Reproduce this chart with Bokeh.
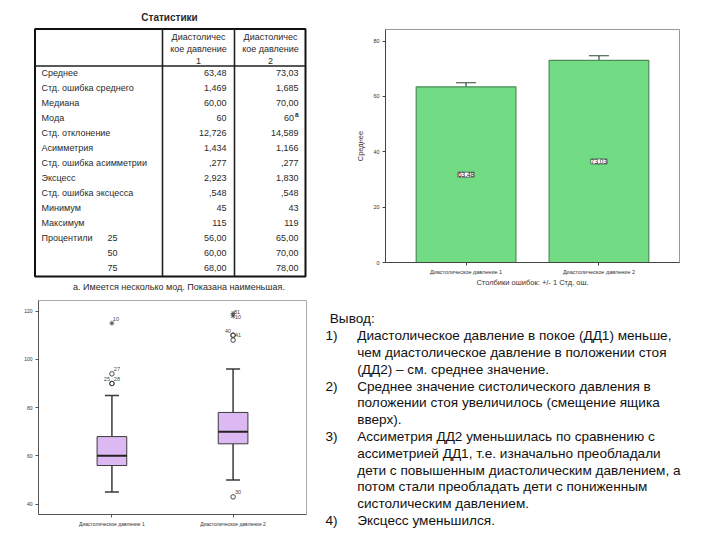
from bokeh.plotting import figure
from bokeh.layouts import column, row
from bokeh.models import (Range1d, FactorRange, ColumnDataSource, Whisker, TeeHead,
                          LabelSet, FixedTicker, Title)
from bokeh.core.properties import value
from bokeh.embed import file_html
from bokeh.resources import INLINE

FONT = "Liberation Sans"

# ---------------- data ----------------
table_title = "Статистики"
header_lines_1 = ["Диастоличес", "кое давление", "1"]
header_lines_2 = ["Диастоличес", "кое давление", "2"]
stat_labels = ["Среднее", "Стд. ошибка среднего", "Медиана", "Мода", "Стд. отклонение",
               "Асимметрия", "Стд. ошибка асимметрии", "Эксцесс", "Стд. ошибка эксцесса",
               "Минимум", "Максимум", "Процентили", "", ""]
pct_labels = ["", "", "", "", "", "", "", "", "", "", "", "25", "50", "75"]
col1_values = ["63,48", "1,469", "60,00", "60", "12,726", "1,434", ",277", "2,923", ",548",
               "45", "115", "56,00", "60,00", "68,00"]
col2_values = ["73,03", "1,685", "70,00", "60", "14,589", "1,166", ",277", "1,830", ",548",
               "43", "119", "65,00", "70,00", "78,00"]
footnote = "a. Имеется несколько мод. Показана наименьшая."

categories = ["Диастолическое давление 1", "Диастолическое давление 2"]
means = [63.48, 73.03]
std_err = [1.469, 1.685]
mean_labels = ["63,48", "73,03"]
bar_yticks = [0, 20, 40, 60, 80]
bar_note = "Столбики ошибок: +/- 1 Стд. ош."
bar_ylabel = "Среднее"

q1 = [56, 65]
medians = [60, 70]
q3 = [68, 78]
whisk_lo = [45, 50]
whisk_hi = [85, 96]
outlier_cat = [0, 0, 0, 1, 1, 1, 1]
outlier_val = [90, 90, 94, 110, 110, 108, 43]
outlier_id = ["25", "28", "27", "40", "41", "", "30"]
extreme_cat = [0, 1, 1]
extreme_val = [115, 119, 118]
extreme_id = ["10", "81", "10"]
box_yticks = [40, 60, 80, 100, 120]

conclusion_title = "Вывод:"
conclusion_nums = ["1)", "", "", "2)", "", "", "3)", "", "", "", "", "4)"]
conclusion_lines = [
    "Диастолическое давление в покое (ДД1) меньше,",
    "чем диастолическое давление в положении стоя",
    "(ДД2) – см. среднее значение.",
    "Среднее значение систолического давления в",
    "положении стоя  увеличилось (смещение ящика",
    "вверх).",
    "Ассиметрия ДД2 уменьшилась по сравнению с",
    "ассиметрией ДД1, т.е. изначально преобладали",
    "дети с повышенным диастолическим давлением, а",
    "потом стали  преобладать дети с пониженным",
    "систолическим давлением.",
    "Эксцесс уменьшился.",
]

# ---------------- table ----------------
t = figure(width=345, height=295, x_range=Range1d(0, 345), y_range=Range1d(295, 0),
           x_axis_location=None, y_axis_location=None, output_backend="svg",
           toolbar_location=None, min_border=0, frame_align=False)
t.grid.visible = False
t.outline_line_color = None
TXT = "#2a2a2a"
TS = "9px"
t.text(x=[169], y=[17], text=[table_title], text_font=value(FONT), text_font_size="10px",
       text_font_style="bold", text_align="center", text_baseline="middle", text_color=TXT)
t.quad(left=[34.5], right=[305], top=[28.5], bottom=[276], fill_color=None,
       line_color="#111", line_width=2)
t.segment(x0=[162, 234], y0=[28.5, 28.5], x1=[162, 234], y1=[276, 276],
          line_color="#222", line_width=1.6)
t.segment(x0=[34.5], y0=[65.5], x1=[305], y1=[65.5], line_color="#222", line_width=1.4)
hy = [36, 48, 60]
t.text(x=[198] * 3 + [270] * 3, y=hy + hy, text=header_lines_1 + header_lines_2,
       text_font=value(FONT), text_font_size=TS, text_align="center",
       text_baseline="middle", text_color=TXT)
ry = [72.7 + 15.0 * i for i in range(len(stat_labels))]
t.text(x=[41] * len(stat_labels), y=ry, text=stat_labels, text_font=value(FONT),
       text_font_size=TS, text_align="left", text_baseline="middle", text_color=TXT)
t.text(x=[107] * len(pct_labels), y=ry, text=pct_labels, text_font=value(FONT),
       text_font_size=TS, text_align="left", text_baseline="middle", text_color=TXT)
t.text(x=[226] * len(col1_values), y=ry, text=col1_values, text_font=value(FONT),
       text_font_size=TS, text_align="right", text_baseline="middle", text_color=TXT)
c2x = [298] * len(col2_values)
c2x[3] = 293.5
t.text(x=c2x, y=ry, text=col2_values, text_font=value(FONT),
       text_font_size=TS, text_align="right", text_baseline="middle", text_color=TXT)
t.text(x=[294.5], y=[ry[3] - 3.5], text=["a"], text_font=value(FONT), text_font_size="6.5px",
       text_font_style="bold", text_align="left", text_baseline="middle", text_color=TXT)
t.text(x=[72.5], y=[286], text=[footnote], text_font=value(FONT), text_font_size=TS,
       text_align="left", text_baseline="middle", text_color=TXT)

# ---------------- bar chart ----------------
b = figure(width=375, height=295,
           x_range=FactorRange(factors=categories, range_padding=0.106,
                               range_padding_units="absolute"),
           y_range=Range1d(0, 84.2), output_backend="svg", toolbar_location=None,
           min_border_left=40, min_border_right=41, min_border_top=29, min_border_bottom=33,
           frame_align=False)
bsrc = ColumnDataSource(dict(cat=categories, mean=means,
                             lo=[m - s for m, s in zip(means, std_err)],
                             hi=[m + s for m, s in zip(means, std_err)],
                             half=[m / 2 for m in means], lbl=mean_labels))
b.vbar(x="cat", top="mean", width=0.75, source=bsrc, fill_color="#72DC85",
       line_color="#4F8A5A", line_width=1.2)
b.add_layout(Whisker(base="cat", lower="lo", upper="hi", source=bsrc,
                     line_color="#2E4A33", line_width=1.2,
                     upper_head=TeeHead(size=20, line_color="#2E4A33", line_width=1.2),
                     lower_head=TeeHead(size=20, line_color="#2E4A33", line_width=1.2)))
b.add_layout(LabelSet(x="cat", y="half", text="lbl", source=bsrc, text_align="center",
                      text_baseline="middle", text_font=value(FONT), text_font_size="6.5px",
                      text_color="#222", background_fill_color="white",
                      border_line_color="#444", border_line_width=0.7))
b.grid.visible = False
b.outline_line_color = "#999"
for ax in (b.xaxis, b.yaxis):
    ax.major_tick_out = 3
    ax.major_tick_in = 0
    ax.minor_tick_line_color = None
    ax.axis_line_color = "#444"
    ax.major_tick_line_color = "#444"
    ax.major_label_text_font = FONT
    ax.major_label_text_color = "#333"
b.xaxis.major_label_text_font_size = "5.5px"
b.xaxis.major_label_standoff = 3
b.yaxis.major_label_text_font_size = "5.5px"
b.yaxis.major_label_standoff = 3
b.yaxis.ticker = FixedTicker(ticks=bar_yticks)
b.yaxis.axis_label = bar_ylabel
b.yaxis.axis_label_text_font = FONT
b.yaxis.axis_label_text_font_size = "7.5px"
b.yaxis.axis_label_text_font_style = "normal"
b.yaxis.axis_label_text_color = "#333"
b.yaxis.axis_label_standoff = 5
b.add_layout(Title(text=bar_note, align="center", offset=-14, standoff=-3,
                   text_font=FONT, text_font_size="7.5px", text_font_style="normal",
                   text_color="#333"), "below")

# ---------------- box plot ----------------
bx = figure(width=310, height=245,
            x_range=FactorRange(factors=categories, range_padding=0.106,
                                range_padding_units="absolute"),
            y_range=Range1d(35.7, 124.4), output_backend="svg", toolbar_location=None,
            min_border_left=38, min_border_right=4, min_border_top=5, min_border_bottom=26,
            frame_align=False)
boxsrc = ColumnDataSource(dict(cat=categories, q1=q1, med=medians, q3=q3,
                               lo=whisk_lo, hi=whisk_hi))
BL = "#3a3a3a"
bx.add_layout(Whisker(base="cat", lower="q3", upper="hi", source=boxsrc, line_color=BL,
                      line_width=1.5, lower_head=None,
                      upper_head=TeeHead(size=14, line_color=BL, line_width=1.5)))
bx.add_layout(Whisker(base="cat", lower="lo", upper="q1", source=boxsrc, line_color=BL,
                      line_width=1.5, upper_head=None,
                      lower_head=TeeHead(size=14, line_color=BL, line_width=1.5)))
bx.vbar(x="cat", bottom="q1", top="q3", width=0.245, source=boxsrc, fill_color="#DDB9F3",
        line_color=BL, line_width=1)
bx.rect(x="cat", y="med", width=0.245, height=2, height_units="screen", source=boxsrc,
        fill_color="#222", line_color=None)
ocats = [categories[i] for i in outlier_cat]
bx.scatter(x=ocats, y=outlier_val, marker="circle", size=4.5, fill_color=None,
           line_color="#444", line_width=1)
ecats = [categories[i] for i in extreme_cat]
bx.scatter(x=ecats, y=extreme_val, marker="asterisk", size=5, line_color="#444",
           line_width=0.8)
o_dx = [-5, 5, 5, -5, 5, 0, 5]
o_dy = [4, 4, 5, 4, 0, 0, 5]
bx.text(x=ocats, y=outlier_val, text=outlier_id, x_offset=o_dx, y_offset=[-d for d in o_dy],
        text_align="center", text_baseline="middle", text_font=value(FONT),
        text_font_size="5.5px", text_color="#444")
e_dx = [4, 4, 5]
e_dy = [4, 2, -1]
bx.text(x=ecats, y=extreme_val, text=extreme_id, x_offset=e_dx, y_offset=[-d for d in e_dy],
        text_align="center", text_baseline="middle", text_font=value(FONT),
        text_font_size="5.5px", text_color="#444")
bx.grid.visible = False
bx.outline_line_color = "#aaa"
for ax in (bx.xaxis, bx.yaxis):
    ax.major_tick_out = 3
    ax.major_tick_in = 0
    ax.minor_tick_line_color = None
    ax.axis_line_color = "#555"
    ax.major_tick_line_color = "#555"
    ax.major_label_text_font = FONT
    ax.major_label_text_color = "#333"
    ax.major_label_text_font_size = "5px"
    ax.major_label_standoff = 3
bx.yaxis.ticker = FixedTicker(ticks=box_yticks)

# ---------------- conclusions ----------------
tx = figure(width=410, height=245, x_range=Range1d(310, 720), y_range=Range1d(540, 295),
            x_axis_location=None, y_axis_location=None, output_backend="svg",
            toolbar_location=None, min_border=0, frame_align=False)
tx.grid.visible = False
tx.outline_line_color = None
FS = "13.6px"
ly = [318.3 + 16.8 * (i + 1) for i in range(len(conclusion_lines))]
tx.text(x=[329.3], y=[318.3], text=[conclusion_title], text_font=value(FONT),
        text_font_size=FS, text_align="left", text_baseline="middle", text_color="#111")
tx.text(x=[325] * len(conclusion_nums), y=ly, text=conclusion_nums, text_font=value(FONT),
        text_font_size=FS, text_align="left", text_baseline="middle", text_color="#111")
tx.text(x=[356.7] * len(conclusion_lines), y=ly, text=conclusion_lines, text_font=value(FONT),
        text_font_size=FS, text_align="left", text_baseline="middle", text_color="#111")

layout = column(row(t, b), row(bx, tx))
open("out.html", "w").write(file_html(layout, INLINE))
